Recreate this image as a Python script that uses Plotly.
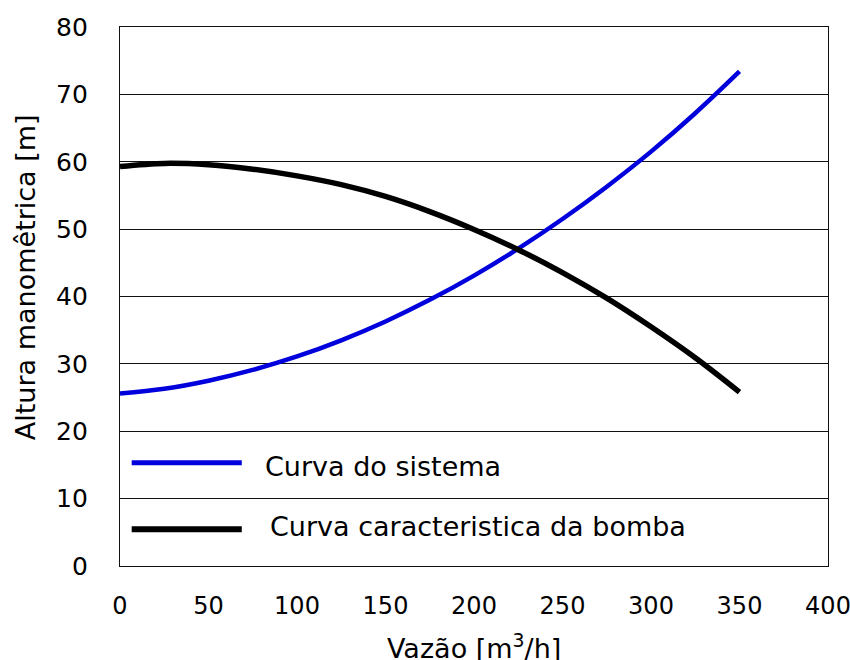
import plotly.graph_objects as go

# Data
vazao = [0, 25, 50, 75, 100, 125, 150, 175, 200, 225, 250, 275, 300, 325, 350]
curva_sistema = [25.6, 26.3, 27.5, 29.1, 31.1, 33.5, 36.3, 39.5, 43.1, 47.1, 51.5, 56.3, 61.5, 67.2, 73.4]
curva_bomba = [59.3, 59.75, 59.55, 58.9, 57.9, 56.6, 54.85, 52.6, 49.95, 46.95, 43.55, 39.75, 35.5, 30.9, 25.8]

x_ticks = [0, 50, 100, 150, 200, 250, 300, 350, 400]
y_ticks = [0, 10, 20, 30, 40, 50, 60, 70, 80]

legend_labels = ["Curva do sistema", "Curva caracteristica da bomba"]

BLUE = "#0000dd"
BLACK = "#000000"
FONT = "DejaVu Sans"

fig = go.Figure()
fig.add_trace(go.Scatter(x=vazao, y=curva_sistema, mode="lines", name=legend_labels[0],
                         line=dict(color=BLUE, width=4.5, shape="spline"), showlegend=False))
fig.add_trace(go.Scatter(x=vazao, y=curva_bomba, mode="lines", name=legend_labels[1],
                         line=dict(color=BLACK, width=5.5, shape="spline"), showlegend=False))

# Manual legend inside the plot (long key lines as in the reference)
legend_rows = [
    dict(label=legend_labels[0], color=BLUE, width=5, ly=0.1917, tx=0.202, ty=0.1837),
    dict(label=legend_labels[1], color=BLACK, width=6, ly=0.0681, tx=0.209, ty=0.0724),
]
for row in legend_rows:
    fig.add_shape(type="line", xref="paper", yref="paper", x0=0.0165, x1=0.172,
                  y0=row["ly"], y1=row["ly"], line=dict(color=row["color"], width=row["width"]),
                  layer="above")
    fig.add_annotation(xref="paper", yref="paper", x=row["tx"], y=row["ty"], text=row["label"],
                       showarrow=False, xanchor="left", yanchor="middle",
                       font=dict(family=FONT, size=27, color="black"))

# Axis titles (placed as in the reference, x title partly below the image edge)
fig.add_annotation(xref="paper", yref="paper", x=-0.134, y=0.536, text="Altura manomêtrica [m]",
                   textangle=-90, showarrow=False, xanchor="center", yanchor="middle",
                   font=dict(family=FONT, size=27, color="black"))
fig.add_annotation(xref="paper", yref="paper", x=0.5, y=-0.113, text="Vazão [m<sup>3</sup>/h]",
                   showarrow=False, xanchor="center", yanchor="top",
                   font=dict(family=FONT, size=27, color="black"))

fig.update_layout(
    width=850, height=660,
    margin=dict(l=120, r=22, t=27, b=94, autoexpand=False),
    plot_bgcolor="white", paper_bgcolor="white",
    font=dict(family=FONT, size=25, color="black"),
)
fig.update_xaxes(
    range=[0, 400], tickvals=x_ticks, ticktext=[str(v) for v in x_ticks],
    showgrid=False, zeroline=False, showline=True, linecolor="#111", linewidth=1.3, mirror=True,
    ticks="", ticklabelstandoff=18, ticklabeloverflow="allow",
    tickfont=dict(family=FONT, size=24, color="black"),
)
fig.update_yaxes(
    range=[0, 80], tickvals=y_ticks, ticktext=[str(v) for v in y_ticks],
    showgrid=True, gridcolor="#111", gridwidth=1.3, zeroline=False,
    showline=True, linecolor="#111", linewidth=1.3, mirror=True,
    ticks="", ticklabelstandoff=26, tickfont=dict(family=FONT, size=25, color="black"),
)

fig.write_html("out.html")
